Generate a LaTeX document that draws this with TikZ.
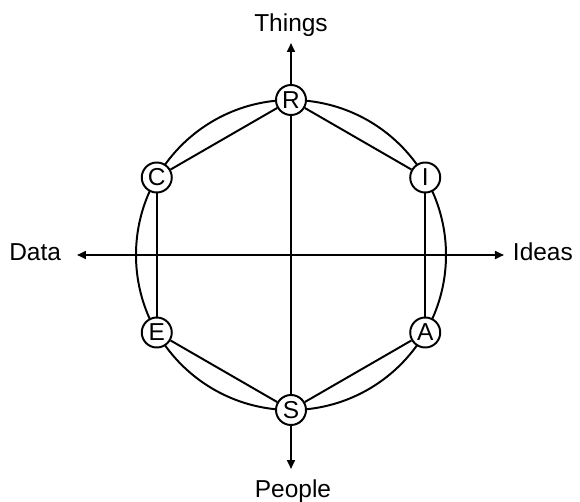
\documentclass[tikz,border=0pt]{standalone}
\usepackage{fontspec}
\setmainfont{Liberation Sans}
\usetikzlibrary{arrows.meta,backgrounds}

\begin{document}
\begin{tikzpicture}[x=0.025cm, y=0.025cm, line width=1.4pt,
		>={Triangle[length=6.4pt, width=5.6pt]},
		font=\fontsize{17.4}{20}\selectfont,
		letter/.style={circle, draw, line width=1.4pt, fill=white, minimum size=0.75cm, inner sep=0pt},
		link/.style={line width=1.4pt},
		axislabel/.style={inner sep=0pt}]
		\useasboundingbox (-291, -246) rectangle (289, 255);

		\node[letter] (R) at (90:155) {R};
		\node[letter] (C) at (150:155) {C};
		\node[letter] (E) at (210:155) {E};
		\node[letter] (S) at (270:155) {S};
		\node[letter] (A) at (330:155) {A};
		\node[letter] (I) at (30:155) {I};

		\coordinate (thingstip) at (0, 212);
		\coordinate (peopletip) at (0, -214);
		\coordinate (datatip) at (-214, 0);
		\coordinate (ideastip) at (213, 0);

		\begin{scope}[on background layer]
			\draw[link] (0, 0) circle (155);

			\draw[link] (R) -- (I);
			\draw[link] (R) -- (C);
			\draw[link] (C) -- (E);
			\draw[link] (E) -- (S);
			\draw[link] (S) -- (A);
			\draw[link] (A) -- (I);

			\draw[link, ->] (R) -- (thingstip);
			\draw[link] (R) -- (S);
			\draw[link, ->] (S) -- (peopletip);
			\draw[link, <->] (datatip) -- (ideastip);
		\end{scope}

		\node[axislabel, anchor=base] (things) at (0, 224) {Things};
		\node[axislabel, anchor=base] (people) at (2, -242) {People};
		\node[axislabel, anchor=base east] (data) at (-229, -5) {Data};
		\node[axislabel, anchor=base west] (ideas) at (221, -5) {Ideas};
	\end{tikzpicture}
\end{document}
